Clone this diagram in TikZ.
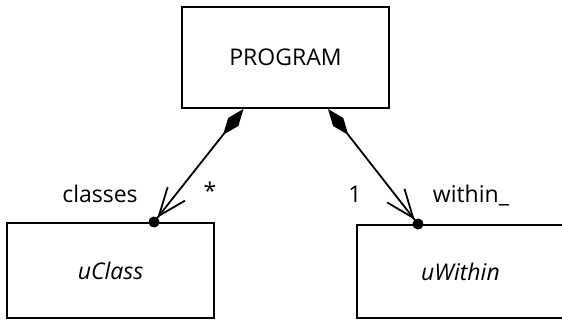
\documentclass[tikz,border=0pt]{standalone}
\usepackage{fontspec}
\setmainfont{Open Sans}
\usetikzlibrary{arrows.meta,positioning}
\tikzset{
clsbox/.style = {draw=black, line width=2pt, rectangle, minimum width=207pt, align=center,
font=\fontsize{23}{26}\selectfont},% boite de classe
lbl/.style = {inner sep=0pt, anchor=base, font=\fontsize{23}{26}\selectfont},% nom de role
assoc/.style = {line width=1.8pt, shorten >=-5.5pt,
{Diamond[length=33pt,width=13pt]}-{Straight Barb[length=28pt,width=22pt] Circle[length=11pt]}}% composition
}
\begin{document}
\begin{tikzpicture}[x=1pt,y=-1pt]
  \useasboundingbox (0,0) rectangle (562,320);
  \node [clsbox, minimum height=101pt] (prog) at (285.5,57.5) {PROGRAM};
  \node [clsbox, minimum height=95pt] (cls) at (110.5,270.5) {\itshape uClass};
  \node [clsbox, minimum height=93pt] (win) at (460.5,271.5) {\itshape uWithin};
  \draw [assoc] ([xshift=-42pt]prog.south) -- ([xshift=43.5pt]cls.north);
  \draw [assoc] ([xshift=42.5pt]prog.south) -- ([xshift=-42.5pt]win.north);
  \node [lbl] (cname) at (100,202.5) {classes};
  \node [lbl] (cmult) at (210,200) {*};
  \node [lbl] (wmult) at (355,202.5) {1};
  \node [lbl] (wname) at (471,202.5) {within\_};
\end{tikzpicture}
\end{document}
